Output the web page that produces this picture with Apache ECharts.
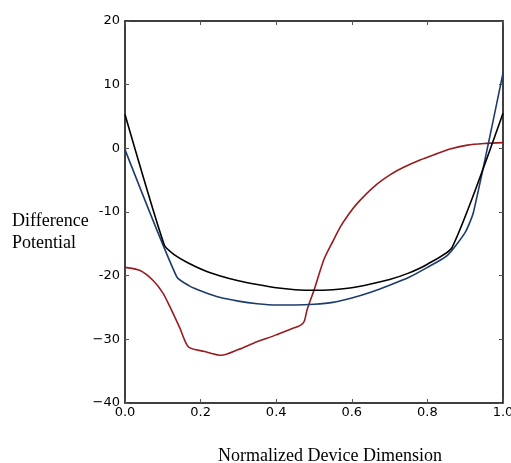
<!DOCTYPE html>
<html>
<head>
<meta charset="utf-8">
<script src="https://cdn.jsdelivr.net/npm/echarts@6/dist/echarts.min.js"></script>
<style>
html,body{margin:0;padding:0;background:#fff;}
#chart{width:511px;height:463px;}
</style>
</head>
<body>
<div id="chart"></div>
<script>
// ---- data ----
var blackX = [0, 0.104, 0.13, 0.17, 0.21, 0.25, 0.3, 0.35, 0.4, 0.45, 0.5, 0.55, 0.6, 0.65, 0.7, 0.75, 0.8, 0.865, 1.0];
var blackY = [5.3, -15.2, -16.7, -18.1, -19.2, -20.0, -20.8, -21.4, -21.9, -22.2, -22.3, -22.2, -21.9, -21.3, -20.6, -19.6, -18.2, -15.6, 5.5];

var blueX = [0, 0.137, 0.17, 0.21, 0.25, 0.3, 0.35, 0.4, 0.45, 0.5, 0.55, 0.6, 0.65, 0.7, 0.75, 0.8, 0.853, 0.9, 0.922, 1.0];
var blueY = [-0.2, -20.2, -21.6, -22.6, -23.4, -24.0, -24.4, -24.6, -24.6, -24.5, -24.2, -23.5, -22.6, -21.5, -20.3, -18.7, -16.8, -13.2, -10.0, 11.8];

var redX = [0, 0.04, 0.075, 0.1, 0.119, 0.145, 0.168, 0.21, 0.255, 0.3, 0.34, 0.4, 0.438, 0.464, 0.474, 0.482, 0.5, 0.526, 0.55, 0.57, 0.59, 0.615, 0.659, 0.703, 0.74, 0.782, 0.818, 0.86, 0.906, 0.95, 1.0];
var redY = [-18.7, -19.2, -20.8, -22.7, -24.9, -28.2, -31.2, -31.9, -32.5, -31.6, -30.6, -29.3, -28.4, -27.8, -27.2, -25.3, -22.3, -17.5, -14.6, -12.3, -10.5, -8.6, -6.0, -4.1, -2.9, -1.8, -1.0, -0.1, 0.5, 0.75, 0.9];

var xTickLabels = ['0.0', '0.2', '0.4', '0.6', '0.8', '1.0'];
var yTickValues = [20, 10, 0, -10, -20, -30, -40];
var yTickLabels = ['20', '10', '0', '-10', '-20', '\u221230', '\u221240'];

var yLabelText = 'Difference\nPotential';
var xLabelText = 'Normalized Device Dimension';

function pairs(xs, ys) {
  return xs.map(function (x, i) { return [x, ys[i]]; });
}

var chart = echarts.init(document.getElementById('chart'), null, {renderer: 'canvas'});

var tickFont = {fontFamily: 'DejaVu Sans', fontSize: 13, color: '#000'};
var axisLine = {show: true, onZero: false, lineStyle: {color: '#000', width: 1.5}};
var axisTick = {show: true, inside: true, length: 4, lineStyle: {color: '#555', width: 1}};

var option = {
  animation: false,
  backgroundColor: '#fff',
  grid: {left: 125, right: 8, top: 21, bottom: 60, containLabel: false, outerBoundsMode: 'none'},
  xAxis: [{
    type: 'value', position: 'bottom', min: 0, max: 1, interval: 0.2,
    axisLine: axisLine, axisTick: axisTick, splitLine: {show: false},
    axisLabel: Object.assign({margin: 3, formatter: function (v) {
      var i = Math.round(v / 0.2); return xTickLabels[i] !== undefined ? xTickLabels[i] : '';
    }}, tickFont)
  }, {
    type: 'value', position: 'top', min: 0, max: 1, interval: 0.2,
    axisLine: axisLine, axisTick: axisTick, splitLine: {show: false},
    axisLabel: {show: false}
  }],
  yAxis: [{
    type: 'value', position: 'left', min: -40, max: 20, interval: 10,
    axisLine: axisLine, axisTick: axisTick, splitLine: {show: false},
    axisLabel: Object.assign({margin: 5, formatter: function (v) {
      var i = yTickValues.indexOf(Math.round(v)); return i >= 0 ? yTickLabels[i] : '';
    }}, tickFont)
  }, {
    type: 'value', position: 'right', min: -40, max: 20, interval: 10,
    axisLine: axisLine, axisTick: axisTick, splitLine: {show: false},
    axisLabel: {show: false}
  }],
  series: [{
    type: 'line', name: 'red', data: pairs(redX, redY), showSymbol: false, symbol: 'none',
    smooth: 0.25, lineStyle: {color: '#971c1f', width: 1.6}, z: 2
  }, {
    type: 'line', name: 'blue', data: pairs(blueX, blueY), showSymbol: false, symbol: 'none',
    smooth: 0.2, lineStyle: {color: '#1d3c6b', width: 1.6}, z: 3
  }, {
    type: 'line', name: 'black', data: pairs(blackX, blackY), showSymbol: false, symbol: 'none',
    smooth: 0.2, lineStyle: {color: '#000000', width: 1.6}, z: 4
  }],
  graphic: [{
    type: 'text', left: 12, top: 210,
    style: {text: yLabelText, font: '18px "Liberation Serif"', fill: '#000', lineHeight: 22}
  }, {
    type: 'text', left: 218, top: 447,
    style: {text: xLabelText, font: '18px "Liberation Serif"', fill: '#000'}
  }]
};
chart.setOption(option);
</script>
</body>
</html>
